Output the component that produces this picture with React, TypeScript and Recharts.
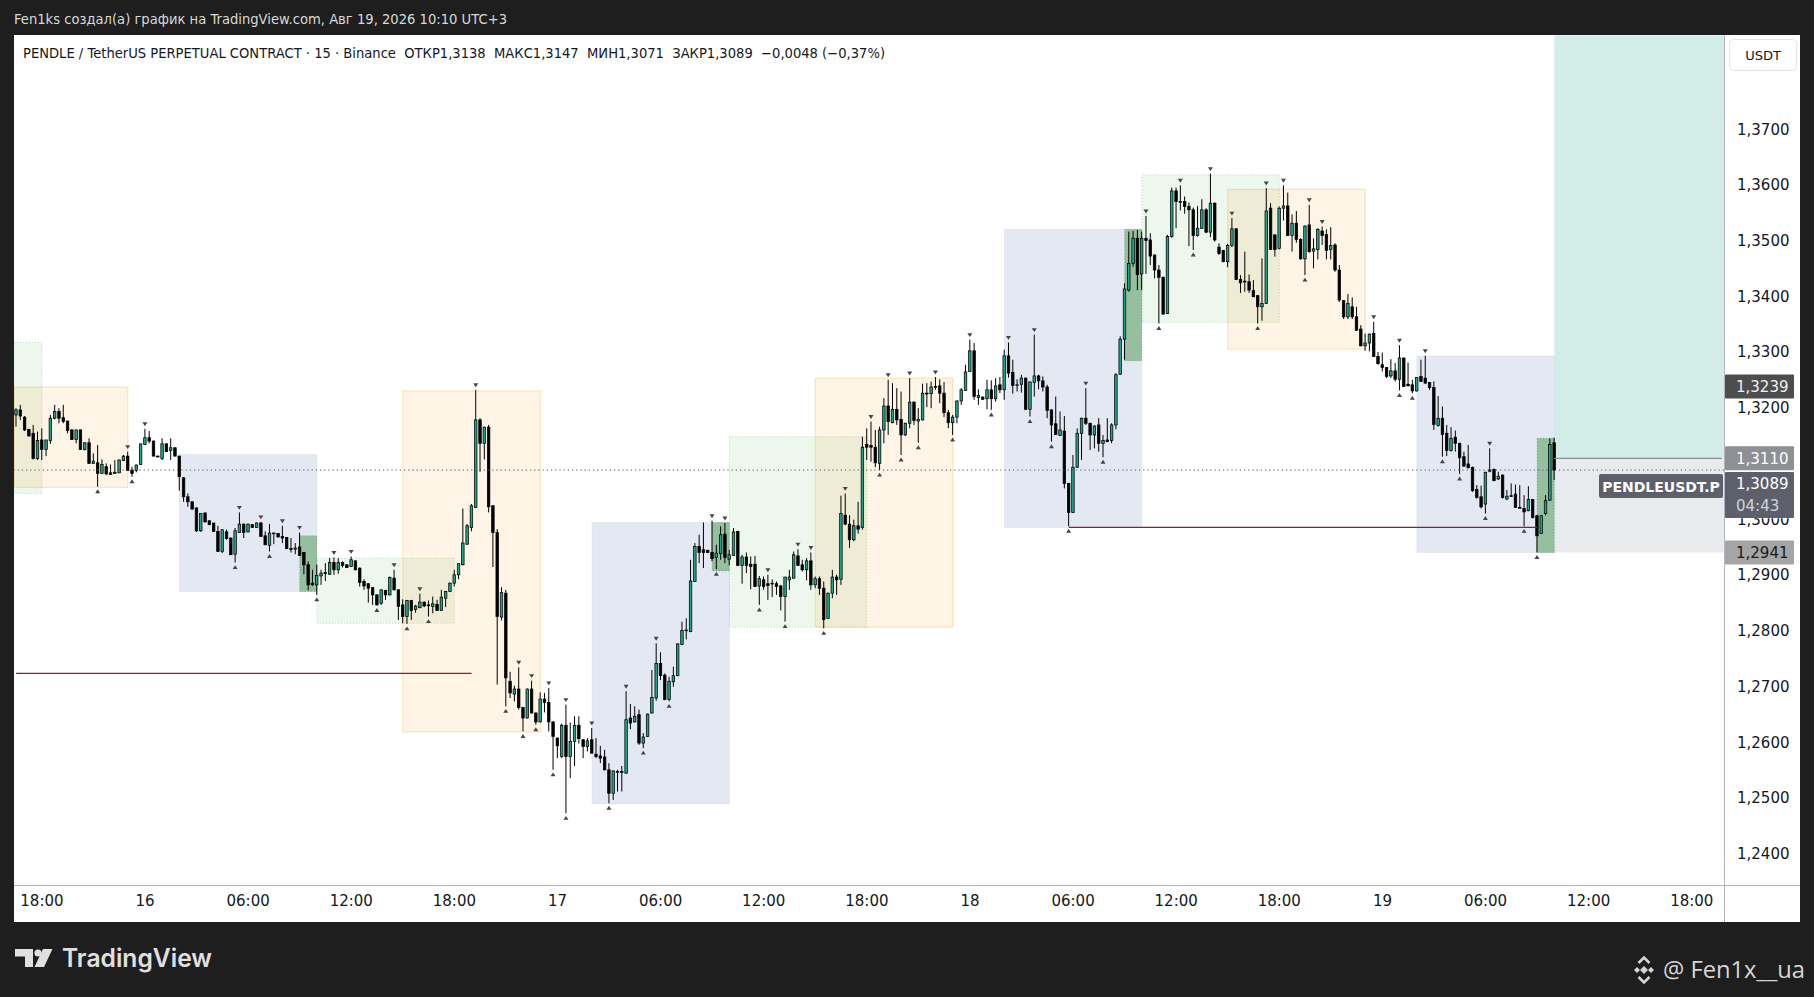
import React from 'react';
import { ComposedChart, Bar, XAxis, YAxis, ReferenceArea, ReferenceLine } from 'recharts';

// ---------- candle data (15 min, PENDLE/USDT.P, from 15 Aug 16:30 to 19 Aug 10:00) ----------
const OPEN = [
  1.3188,1.3197,1.3184,1.3162,1.3155,1.3110,1.3143,1.3126,1.3142,1.3182,
  1.3194,1.3183,1.3177,1.3161,1.3144,1.3161,1.3126,1.3138,1.3101,1.3102,
  1.3083,1.3095,1.3084,1.3083,1.3084,1.3106,1.3114,1.3089,1.3088,1.3099,
  1.3135,1.3147,1.3141,1.3114,1.3110,1.3136,1.3124,1.3129,1.3114,1.3075,
  1.3041,1.3032,1.3021,1.2980,1.3012,1.2998,1.2994,1.2979,1.2943,1.2978,
  1.2967,1.2938,1.2977,1.2992,1.2978,1.2991,1.2986,1.2994,1.2971,1.2954,
  1.2975,1.2975,1.2970,1.2968,1.2948,1.2947,1.2951,1.2941,1.2919,1.2886,
  1.2883,1.2899,1.2903,1.2902,1.2923,1.2910,1.2923,1.2919,1.2916,1.2926,
  1.2913,1.2889,1.2885,1.2878,1.2865,1.2850,1.2873,1.2865,1.2895,1.2874,
  1.2847,1.2826,1.2855,1.2839,1.2842,1.2852,1.2846,1.2844,1.2848,1.2837,
  1.2859,1.2871,1.2886,1.2901,1.2919,1.2956,1.2986,1.3022,1.3179,1.3137,
  1.3166,1.3025,1.2977,1.2825,1.2868,1.2710,1.2687,1.2696,1.2663,1.2644,
  1.2696,1.2653,1.2637,1.2678,1.2672,1.2637,1.2608,1.2575,1.2631,1.2575,
  1.2602,1.2631,1.2605,1.2593,1.2605,1.2579,1.2576,1.2574,1.2551,1.2509,
  1.2547,1.2548,1.2545,1.2644,1.2637,1.2650,1.2599,1.2611,1.2653,1.2680,
  1.2742,1.2721,1.2677,1.2709,1.2720,1.2776,1.2801,1.2799,1.2889,1.2952,
  1.2946,1.2945,1.2941,1.2932,1.2939,1.2974,1.2929,1.2936,1.2979,1.2918,
  1.2933,1.2920,1.2920,1.2881,1.2892,1.2885,1.2885,1.2885,1.2881,1.2862,
  1.2892,1.2895,1.2935,1.2919,1.2910,1.2926,1.2883,1.2894,1.2877,1.2823,
  1.2868,1.2897,1.2893,1.3008,1.2992,1.2964,1.2989,1.2986,1.3135,1.3133,
  1.3130,1.3101,1.3161,1.3204,1.3174,1.3198,1.3180,1.3152,1.3173,1.3211,
  1.3177,1.3179,1.3227,1.3226,1.3238,1.3240,1.3227,1.3192,1.3174,1.3184,
  1.3213,1.3232,1.3266,1.3303,1.3219,1.3220,1.3217,1.3233,1.3217,1.3242,
  1.3233,1.3294,1.3264,1.3241,1.3243,1.3254,1.3198,1.3246,1.3258,1.3249,
  1.3238,1.3197,1.3172,1.3151,1.3159,1.3065,1.3013,1.3094,1.3155,1.3182,
  1.3173,1.3152,1.3170,1.3137,1.3143,1.3142,1.3170,1.3261,1.3324,1.3412,
  1.3460,1.3505,1.3441,1.3505,1.3502,1.3475,1.3448,1.3435,1.3370,1.3508,
  1.3590,1.3570,1.3571,1.3562,1.3556,1.3510,1.3523,1.3556,1.3516,1.3568,
  1.3489,1.3483,1.3463,1.3492,1.3522,1.3431,1.3428,1.3427,1.3411,1.3402,
  1.3382,1.3388,1.3559,1.3511,1.3487,1.3559,1.3563,1.3510,1.3532,1.3503,
  1.3468,1.3529,1.3482,1.3485,1.3518,1.3512,1.3485,1.3493,1.3448,1.3393,
  1.3364,1.3382,1.3364,1.3342,1.3312,1.3317,1.3334,1.3293,1.3278,1.3273,
  1.3258,1.3267,1.3252,1.3290,1.3243,1.3242,1.3231,1.3257,1.3254,1.3246,
  1.3237,1.3169,1.3182,1.3155,1.3124,1.3148,1.3137,1.3113,1.3100,1.3094,
  1.3054,1.3041,1.3028,1.3087,1.3090,1.3073,1.3080,1.3037,1.3043,1.3046,
  1.3022,1.3020,1.3016,1.3036,1.3007,1.2975,1.3011,1.3035,1.3138,
];
const HIGH = [
  1.3200,1.3206,1.3186,1.3163,1.3170,1.3158,1.3164,1.3143,1.3188,1.3206,
  1.3200,1.3206,1.3177,1.3162,1.3161,1.3162,1.3138,1.3146,1.3119,1.3134,
  1.3108,1.3101,1.3099,1.3107,1.3108,1.3116,1.3122,1.3095,1.3099,1.3136,
  1.3163,1.3159,1.3142,1.3115,1.3146,1.3137,1.3146,1.3130,1.3115,1.3076,
  1.3047,1.3033,1.3022,1.3011,1.3013,1.2999,1.2994,1.2989,1.2982,1.2982,
  1.2968,1.2985,1.3013,1.2993,1.2993,1.2992,1.2995,1.2996,1.2979,1.2992,
  1.2977,1.2976,1.2989,1.2969,1.2967,1.2958,1.2977,1.2942,1.2925,1.2910,
  1.2919,1.2910,1.2922,1.2931,1.2932,1.2931,1.2925,1.2920,1.2934,1.2927,
  1.2914,1.2893,1.2886,1.2879,1.2866,1.2875,1.2874,1.2898,1.2910,1.2875,
  1.2857,1.2856,1.2856,1.2847,1.2867,1.2853,1.2855,1.2862,1.2856,1.2874,
  1.2872,1.2887,1.2910,1.2921,1.3020,1.2992,1.3028,1.3233,1.3182,1.3167,
  1.3170,1.3026,1.2983,1.2879,1.2874,1.2727,1.2702,1.2735,1.2664,1.2697,
  1.2711,1.2654,1.2690,1.2689,1.2698,1.2638,1.2609,1.2634,1.2668,1.2636,
  1.2647,1.2647,1.2606,1.2608,1.2626,1.2608,1.2594,1.2587,1.2563,1.2550,
  1.2551,1.2558,1.2692,1.2669,1.2665,1.2659,1.2617,1.2652,1.2730,1.2778,
  1.2762,1.2724,1.2718,1.2736,1.2778,1.2817,1.2823,1.2928,1.2958,1.2973,
  1.2995,1.2946,1.2998,1.2955,1.2988,1.2994,1.2946,1.2985,1.2980,1.2937,
  1.2941,1.2934,1.2935,1.2899,1.2898,1.2901,1.2893,1.2889,1.2883,1.2897,
  1.2910,1.2943,1.2947,1.2928,1.2931,1.2941,1.2898,1.2898,1.2889,1.2869,
  1.2910,1.2901,1.3043,1.3047,1.3008,1.3000,1.3032,1.3149,1.3164,1.3176,
  1.3161,1.3167,1.3218,1.3251,1.3245,1.3236,1.3230,1.3174,1.3254,1.3212,
  1.3200,1.3244,1.3245,1.3248,1.3256,1.3252,1.3247,1.3197,1.3188,1.3214,
  1.3236,1.3278,1.3323,1.3317,1.3234,1.3221,1.3251,1.3250,1.3254,1.3256,
  1.3305,1.3318,1.3287,1.3252,1.3260,1.3255,1.3248,1.3332,1.3260,1.3257,
  1.3242,1.3198,1.3221,1.3194,1.3186,1.3066,1.3116,1.3164,1.3183,1.3236,
  1.3174,1.3169,1.3182,1.3152,1.3182,1.3173,1.3263,1.3329,1.3424,1.3517,
  1.3518,1.3520,1.3517,1.3545,1.3514,1.3476,1.3457,1.3436,1.3511,1.3596,
  1.3596,1.3600,1.3580,1.3569,1.3560,1.3563,1.3575,1.3559,1.3621,1.3569,
  1.3496,1.3484,1.3495,1.3541,1.3523,1.3439,1.3481,1.3440,1.3430,1.3403,
  1.3469,1.3595,1.3568,1.3512,1.3562,1.3600,1.3587,1.3548,1.3554,1.3505,
  1.3528,1.3565,1.3505,1.3523,1.3526,1.3521,1.3525,1.3496,1.3457,1.3394,
  1.3405,1.3399,1.3382,1.3349,1.3334,1.3334,1.3355,1.3301,1.3300,1.3274,
  1.3288,1.3281,1.3313,1.3291,1.3282,1.3251,1.3256,1.3287,1.3294,1.3247,
  1.3248,1.3222,1.3203,1.3170,1.3166,1.3160,1.3138,1.3122,1.3134,1.3095,
  1.3062,1.3061,1.3086,1.3128,1.3092,1.3086,1.3081,1.3053,1.3065,1.3063,
  1.3062,1.3044,1.3060,1.3037,1.3008,1.3008,1.3044,1.3146,1.3147,
];
const LOW = [
  1.3167,1.3179,1.3159,1.3150,1.3108,1.3107,1.3107,1.3114,1.3136,1.3180,
  1.3173,1.3173,1.3155,1.3143,1.3137,1.3125,1.3124,1.3100,1.3100,1.3059,
  1.3082,1.3080,1.3081,1.3083,1.3084,1.3105,1.3088,1.3077,1.3085,1.3098,
  1.3134,1.3137,1.3114,1.3112,1.3107,1.3122,1.3107,1.3114,1.3052,1.3032,
  1.3023,1.3018,1.2978,1.2978,1.2995,1.2990,1.2978,1.2942,1.2940,1.2964,
  1.2937,1.2923,1.2976,1.2967,1.2977,1.2985,1.2985,1.2969,1.2954,1.2943,
  1.2956,1.2968,1.2958,1.2947,1.2941,1.2938,1.2935,1.2902,1.2873,1.2881,
  1.2865,1.2883,1.2890,1.2901,1.2901,1.2903,1.2914,1.2913,1.2915,1.2909,
  1.2880,1.2874,1.2851,1.2847,1.2846,1.2847,1.2856,1.2864,1.2873,1.2820,
  1.2814,1.2813,1.2820,1.2833,1.2841,1.2843,1.2826,1.2832,1.2836,1.2836,
  1.2843,1.2870,1.2880,1.2893,1.2918,1.2955,1.2979,1.3021,1.3086,1.3108,
  1.3013,1.2915,1.2704,1.2819,1.2665,1.2680,1.2674,1.2659,1.2620,1.2643,
  1.2652,1.2632,1.2636,1.2654,1.2620,1.2551,1.2572,1.2572,1.2473,1.2536,
  1.2558,1.2598,1.2572,1.2584,1.2580,1.2572,1.2563,1.2550,1.2491,1.2497,
  1.2512,1.2512,1.2544,1.2624,1.2636,1.2596,1.2590,1.2610,1.2652,1.2675,
  1.2712,1.2676,1.2674,1.2700,1.2719,1.2775,1.2785,1.2798,1.2888,1.2922,
  1.2913,1.2940,1.2925,1.2911,1.2928,1.2922,1.2918,1.2935,1.2917,1.2885,
  1.2904,1.2875,1.2879,1.2847,1.2874,1.2856,1.2861,1.2865,1.2837,1.2817,
  1.2874,1.2894,1.2917,1.2907,1.2891,1.2874,1.2877,1.2865,1.2805,1.2822,
  1.2859,1.2865,1.2883,1.2990,1.2949,1.2961,1.2975,1.2982,1.3107,1.3104,
  1.3094,1.3089,1.3137,1.3152,1.3173,1.3170,1.3116,1.3150,1.3164,1.3170,
  1.3138,1.3178,1.3202,1.3200,1.3233,1.3209,1.3184,1.3164,1.3152,1.3173,
  1.3206,1.3231,1.3265,1.3215,1.3206,1.3215,1.3198,1.3197,1.3212,1.3227,
  1.3215,1.3255,1.3226,1.3230,1.3228,1.3197,1.3185,1.3221,1.3234,1.3230,
  1.3182,1.3140,1.3152,1.3150,1.3056,1.2988,1.3012,1.3093,1.3107,1.3170,
  1.3125,1.3128,1.3122,1.3112,1.3139,1.3137,1.3162,1.3260,1.3287,1.3409,
  1.3454,1.3412,1.3412,1.3441,1.3457,1.3433,1.3352,1.3368,1.3369,1.3506,
  1.3523,1.3555,1.3549,1.3491,1.3484,1.3508,1.3522,1.3514,1.3507,1.3499,
  1.3475,1.3462,1.3453,1.3489,1.3430,1.3407,1.3409,1.3407,1.3400,1.3352,
  1.3357,1.3387,1.3484,1.3472,1.3485,1.3537,1.3509,1.3481,1.3497,1.3467,
  1.3439,1.3479,1.3451,1.3467,1.3493,1.3467,1.3467,1.3445,1.3391,1.3360,
  1.3360,1.3360,1.3339,1.3311,1.3303,1.3302,1.3292,1.3278,1.3266,1.3254,
  1.3254,1.3248,1.3232,1.3238,1.3240,1.3227,1.3230,1.3247,1.3244,1.3233,
  1.3161,1.3167,1.3113,1.3114,1.3122,1.3122,1.3082,1.3095,1.3092,1.3050,
  1.3038,1.3020,1.3011,1.3085,1.3069,1.3071,1.3038,1.3035,1.3041,1.3021,
  1.3020,1.2988,1.3015,1.3002,1.2941,1.2974,1.3008,1.3034,1.3071,
];
const CLOSE = [
  1.3197,1.3186,1.3161,1.3150,1.3110,1.3142,1.3126,1.3143,1.3182,1.3194,
  1.3182,1.3176,1.3160,1.3144,1.3161,1.3126,1.3138,1.3101,1.3105,1.3083,
  1.3099,1.3082,1.3081,1.3085,1.3107,1.3114,1.3088,1.3083,1.3098,1.3136,
  1.3147,1.3141,1.3114,1.3113,1.3136,1.3122,1.3129,1.3114,1.3077,1.3041,
  1.3032,1.3019,1.2980,1.3011,1.2996,1.2991,1.2979,1.2943,1.2982,1.2966,
  1.2937,1.2980,1.2992,1.2977,1.2992,1.2986,1.2994,1.2970,1.2955,1.2976,
  1.2976,1.2969,1.2967,1.2948,1.2947,1.2949,1.2936,1.2919,1.2883,1.2883,
  1.2900,1.2904,1.2905,1.2923,1.2910,1.2923,1.2918,1.2914,1.2928,1.2910,
  1.2887,1.2881,1.2877,1.2865,1.2847,1.2874,1.2865,1.2896,1.2874,1.2844,
  1.2826,1.2855,1.2837,1.2845,1.2852,1.2845,1.2847,1.2849,1.2837,1.2861,
  1.2871,1.2886,1.2901,1.2921,1.2958,1.2989,1.3025,1.3179,1.3137,1.3166,
  1.3023,1.2977,1.2826,1.2869,1.2716,1.2689,1.2696,1.2663,1.2644,1.2696,
  1.2653,1.2637,1.2678,1.2672,1.2637,1.2611,1.2594,1.2631,1.2575,1.2602,
  1.2631,1.2607,1.2593,1.2603,1.2581,1.2575,1.2572,1.2551,1.2509,1.2549,
  1.2548,1.2547,1.2641,1.2635,1.2647,1.2599,1.2610,1.2651,1.2681,1.2742,
  1.2720,1.2677,1.2710,1.2720,1.2777,1.2801,1.2802,1.2890,1.2952,1.2941,
  1.2941,1.2941,1.2930,1.2940,1.2973,1.2932,1.2937,1.2978,1.2918,1.2933,
  1.2918,1.2916,1.2880,1.2894,1.2880,1.2882,1.2886,1.2880,1.2862,1.2897,
  1.2897,1.2937,1.2918,1.2910,1.2926,1.2883,1.2894,1.2877,1.2821,1.2868,
  1.2897,1.2892,1.3011,1.2992,1.2964,1.2989,1.2983,1.3130,1.3130,1.3130,
  1.3102,1.3161,1.3204,1.3176,1.3198,1.3179,1.3152,1.3173,1.3211,1.3178,
  1.3180,1.3227,1.3226,1.3238,1.3239,1.3227,1.3192,1.3174,1.3184,1.3213,
  1.3233,1.3265,1.3303,1.3221,1.3223,1.3216,1.3233,1.3217,1.3240,1.3233,
  1.3294,1.3263,1.3241,1.3242,1.3254,1.3198,1.3247,1.3258,1.3249,1.3238,
  1.3196,1.3170,1.3153,1.3161,1.3065,1.3013,1.3094,1.3155,1.3182,1.3173,
  1.3152,1.3168,1.3137,1.3142,1.3140,1.3170,1.3260,1.3324,1.3414,1.3460,
  1.3505,1.3440,1.3505,1.3501,1.3473,1.3448,1.3435,1.3369,1.3508,1.3590,
  1.3571,1.3571,1.3562,1.3556,1.3510,1.3523,1.3556,1.3516,1.3568,1.3502,
  1.3478,1.3463,1.3492,1.3522,1.3431,1.3425,1.3427,1.3412,1.3400,1.3382,
  1.3388,1.3554,1.3485,1.3485,1.3559,1.3563,1.3510,1.3532,1.3503,1.3468,
  1.3527,1.3481,1.3486,1.3521,1.3510,1.3483,1.3492,1.3448,1.3394,1.3364,
  1.3388,1.3364,1.3340,1.3312,1.3317,1.3333,1.3293,1.3280,1.3273,1.3257,
  1.3267,1.3252,1.3290,1.3239,1.3240,1.3231,1.3255,1.3248,1.3245,1.3237,
  1.3171,1.3182,1.3153,1.3124,1.3146,1.3137,1.3111,1.3096,1.3093,1.3052,
  1.3040,1.3023,1.3085,1.3089,1.3070,1.3078,1.3040,1.3042,1.3042,1.3022,
  1.3021,1.3014,1.3036,1.3004,1.2971,1.3007,1.3034,1.3135,1.3089,
];

// ---------- axes ----------
const TOTAL_SLOTS = 398;
const TIME_TICK_INDEX = [6, 30, 54, 78, 102, 126, 150, 174, 198, 222, 246, 270, 294, 318, 342, 366, 390];
const TIME_TICK_LABELS = ['18:00', '16', '06:00', '12:00', '18:00', '17', '06:00', '12:00', '18:00', '18', '06:00', '12:00', '18:00', '19', '06:00', '12:00', '18:00'];
const PRICE_TICKS = [1.24, 1.25, 1.26, 1.27, 1.28, 1.29, 1.30, 1.31, 1.32, 1.33, 1.34, 1.35, 1.36, 1.37];
const PRICE_DOMAIN: [number, number] = [1.23443, 1.38698];
// axis labels covered by the price tags on the right scale
const TICKS_UNDER_TAG = [1.31];
const TICKS_HALF_UNDER_TAG = [1.30];

// ---------- session boxes ----------
const BOX_START = [0, 0, 38, 66, 70, 90, 134, 162, 166, 186, 230, 258, 262, 282, 326, 354];
const BOX_END = [6, 26, 70, 70, 102, 122, 166, 166, 198, 218, 262, 262, 294, 314, 358, 358];
const BOX_TOP = [1.3318, 1.3238, 1.3117, 1.2971, 1.2931, 1.3231, 1.2995, 1.2995, 1.3149, 1.3254, 1.3521, 1.3521, 1.3619, 1.3593, 1.3294, 1.3146];
const BOX_BOTTOM = [1.3047, 1.3058, 1.2871, 1.2871, 1.2814, 1.2619, 1.2490, 1.2908, 1.2807, 1.2807, 1.2986, 1.3285, 1.3354, 1.3306, 1.2941, 1.2941];
const BOX_KIND = ['london', 'ny', 'asia', 'open', 'london', 'ny', 'asia', 'open', 'london', 'ny', 'asia', 'open', 'london', 'ny', 'asia', 'open'];

// ---------- horizontal levels ----------
const LEVEL_PRICE = [1.2724, 1.2986];
const LEVEL_START = [0, 245];
const LEVEL_END = [106, 354];

// ---------- position tool & price tags ----------
const POS_START = 358;
const POS_ENTRY = 1.3110;
const POS_STOP = 1.2941;
const POS_TARGET_VISIBLE = 1.3869;
const LAST_PRICE = 1.3089;
const MARKED_PRICE = 1.3239;
const COUNTDOWN = '04:43';
const SYMBOL_TAG = 'PENDLEUSDT.P';

// ---------- styles ----------
const FONT = '"DejaVu Sans", "Liberation Sans", sans-serif';
const UP = '#1fa58b';
const PLOT_W = 1710;
const HALF_BAND = PLOT_W / TOTAL_SLOTS / 2;
const BOX_STYLE: Record<string, { fill: string; stroke: string; dash?: string }> = {
  asia: { fill: 'rgba(33,65,160,0.12)', stroke: 'rgba(33,65,160,0.05)' },
  london: { fill: 'rgba(76,175,80,0.10)', stroke: 'rgba(76,175,80,0.35)', dash: '1 2' },
  ny: { fill: 'rgba(255,152,0,0.10)', stroke: 'rgba(255,152,0,0.28)' },
  open: { fill: 'rgba(56,142,60,0.45)', stroke: 'rgba(56,142,60,0.5)', dash: '1 2' },
};

const N = Math.min(OPEN.length, HIGH.length, LOW.length, CLOSE.length);
const isFracUp = (i: number) =>
  i >= 2 && i + 2 < N && HIGH[i] > HIGH[i - 1] && HIGH[i] > HIGH[i - 2] && HIGH[i] > HIGH[i + 1] && HIGH[i] > HIGH[i + 2];
const isFracDown = (i: number) =>
  i >= 2 && i + 2 < N && LOW[i] < LOW[i - 1] && LOW[i] < LOW[i - 2] && LOW[i] < LOW[i + 1] && LOW[i] < LOW[i + 2];

const rows = Array.from({ length: TOTAL_SLOTS }, (_, i) =>
  i < N
    ? { i, range: [LOW[i], HIGH[i]], o: OPEN[i], h: HIGH[i], l: LOW[i], c: CLOSE[i], fu: isFracUp(i), fd: isFracDown(i) }
    : { i, range: null }
);

const TICK_LABEL_BY_INDEX: Record<number, string> = {};
TIME_TICK_INDEX.forEach((idx, k) => (TICK_LABEL_BY_INDEX[idx] = TIME_TICK_LABELS[k]));

const fmt = (v: number) => v.toFixed(4).replace('.', ',');

const renderCandle = (p: any) => {
  const { x, y, width, height, payload } = p;
  if (!payload || payload.o === undefined || x == null || y == null) return <g />;
  const top = height >= 0 ? y : y + height;
  const span = Math.abs(height || 0);
  const { o, h, l, c, fu, fd } = payload;
  const py = (v: number) => (h === l ? top : top + ((h - v) / (h - l)) * span);
  const cx = x + width / 2;
  const yo = py(o);
  const yc = py(c);
  const bTop = Math.min(yo, yc);
  const bH = Math.max(Math.abs(yo - yc), 0.8);
  const up = c >= o;
  return (
    <g>
      <line x1={cx} x2={cx} y1={top} y2={top + span} stroke="#000" strokeWidth={1} />
      <rect x={cx - 1.25} y={bTop} width={2.5} height={bH} fill={up ? UP : '#000'} stroke="#000" strokeWidth={0.75} />
      {fu && <path d={`M${cx - 2.5},${top - 6.5} L${cx + 2.5},${top - 6.5} L${cx},${top - 2.6} Z`} fill="#454545" />}
      {fd && <path d={`M${cx - 2.5},${top + span + 6.5} L${cx + 2.5},${top + span + 6.5} L${cx},${top + span + 2.6} Z`} fill="#454545" />}
    </g>
  );
};

const TimeTick = (p: any) => {
  const label = TICK_LABEL_BY_INDEX[p?.payload?.value];
  if (!label) return <g />;
  return (
    <text x={p.x} y={866} textAnchor="middle" dominantBaseline="central" fontSize={15} fill="#131722" fontFamily={FONT}>
      {label}
    </text>
  );
};

const PriceTick = (p: any) => {
  const v = p?.payload?.value;
  if (TICKS_UNDER_TAG.some((t) => Math.abs(t - v) < 1e-9)) return <g />;
  const half = TICKS_HALF_UNDER_TAG.some((t) => Math.abs(t - v) < 1e-9);
  const id = `clip-${String(v).replace('.', '_')}`;
  return (
    <g>
      {half && (
        <defs>
          <clipPath id={id}>
            <rect x={1710} y={p.y - 1.5} width={80} height={20} />
          </clipPath>
        </defs>
      )}
      <text x={1723} y={p.y} dominantBaseline="central" fontSize={15} fill="#131722" fontFamily={FONT} clipPath={half ? `url(#${id})` : undefined}>
        {fmt(v)}
      </text>
    </g>
  );
};

const boxShape = (k: number) => (p: any) => {
  const st = BOX_STYLE[BOX_KIND[k]];
  const left = BOX_START[k] === 0 ? p.x : p.x + HALF_BAND;
  const right = Math.min(p.x + p.width + HALF_BAND, PLOT_W);
  return (
    <rect x={left} y={p.y} width={Math.max(right - left, 0)} height={p.height} fill={st.fill} stroke={st.stroke} strokeDasharray={st.dash} strokeWidth={1} />
  );
};

const posShape = (fill: string) => (p: any) => {
  const left = p.x + HALF_BAND;
  const right = Math.min(p.x + p.width + HALF_BAND, PLOT_W);
  return <rect x={left} y={p.y} width={right - left} height={p.height} fill={fill} />;
};

const tagText = (x: number, y: number, text: string, color: string, size = 15, weight = 400) => (
  <text x={x} y={y} dominantBaseline="central" fontSize={size} fontWeight={weight} fill={color} fontFamily={FONT}>
    {text}
  </text>
);

const simpleTag = (text: string, fill: string, color: string) => (props: any) => {
  const vb = props.viewBox || {};
  const right = (vb.x || 0) + (vb.width || PLOT_W);
  const yy = vb.y;
  return (
    <g>
      <rect x={right + 1} y={yy - 12} width={69} height={24} fill={fill} rx={1} />
      {tagText(right + 12, yy + 0.5, text, color)}
    </g>
  );
};

const lastPriceTag = (props: any) => {
  const vb = props.viewBox || {};
  const right = (vb.x || 0) + (vb.width || PLOT_W);
  const yy = vb.y;
  return (
    <g>
      <rect x={right - 125} y={yy + 4} width={124} height={24} rx={2} fill="#5d606b" />
      <text x={right - 63} y={yy + 16.5} textAnchor="middle" dominantBaseline="central" fontSize={14} fontWeight={700} fill="#ffffff" fontFamily={FONT}>
        {SYMBOL_TAG}
      </text>
      <rect x={right + 1} y={yy + 2} width={69} height={46} fill="#5d606b" rx={1} />
      {tagText(right + 12, yy + 14, fmt(LAST_PRICE), '#ffffff')}
      {tagText(right + 12, yy + 36, COUNTDOWN, '#d1d4dc')}
    </g>
  );
};

export default function App() {
  return (
    <div style={{ position: 'absolute', left: 0, top: 0, width: 1814, height: 997, background: '#1e1e1e', overflow: 'hidden' }}>
      <div style={{ position: 'absolute', left: 14, top: 35, width: 1786, height: 887, background: '#ffffff' }}>
        <ComposedChart width={1786} height={887} data={rows} margin={{ top: 0, right: 0, bottom: 0, left: 0 }}>
          <XAxis dataKey="i" type="category" interval={0} tick={<TimeTick />} tickLine={false} axisLine={false} height={37} />
          <YAxis
            orientation="right"
            type="number"
            domain={PRICE_DOMAIN}
            allowDataOverflow
            ticks={PRICE_TICKS}
            tick={<PriceTick />}
            tickLine={false}
            axisLine={false}
            width={76}
          />
          {BOX_START.map((s, k) => (
            <ReferenceArea key={`box${k}`} x1={s} x2={BOX_END[k] - 1} y1={BOX_BOTTOM[k]} y2={BOX_TOP[k]} shape={boxShape(k)} ifOverflow="visible" />
          ))}
          <ReferenceArea x1={POS_START} x2={TOTAL_SLOTS - 1} y1={POS_ENTRY} y2={POS_TARGET_VISIBLE} shape={posShape('rgba(8,153,129,0.18)')} ifOverflow="visible" />
          <ReferenceArea x1={POS_START} x2={TOTAL_SLOTS - 1} y1={POS_STOP} y2={POS_ENTRY} shape={posShape('rgba(120,123,134,0.16)')} ifOverflow="visible" />
          {LEVEL_PRICE.map((p, k) => (
            <ReferenceLine
              key={`lvl${k}`}
              segment={[{ x: LEVEL_START[k], y: p }, { x: LEVEL_END[k], y: p }]}
              stroke="#8e1f2a"
              strokeWidth={1.2}
            />
          ))}
          <ReferenceLine segment={[{ x: POS_START, y: POS_ENTRY }, { x: TOTAL_SLOTS - 1, y: POS_ENTRY }]} stroke="#8a8d96" strokeWidth={1.2} />
          <ReferenceLine y={LAST_PRICE} stroke="#4f525c" strokeDasharray="1.2 3" strokeWidth={1} />
          <Bar dataKey="range" barSize={4} shape={renderCandle} isAnimationActive={false} />
          <ReferenceLine y={MARKED_PRICE} stroke="none" label={simpleTag(fmt(MARKED_PRICE), '#4d4d4d', '#f0f0f0')} />
          <ReferenceLine y={POS_ENTRY} stroke="none" label={simpleTag(fmt(POS_ENTRY), '#8e9096', '#ffffff')} />
          <ReferenceLine y={POS_STOP} stroke="none" label={simpleTag(fmt(POS_STOP), '#a5a5a5', '#1a1a1a')} />
          <ReferenceLine y={LAST_PRICE} stroke="none" label={lastPriceTag} />
        </ComposedChart>
      </div>
      <svg width={1814} height={997} style={{ position: 'absolute', left: 0, top: 0, pointerEvents: 'none' }}>
        <text x={14} y={18.5} dominantBaseline="central" fontSize={14} fill="#d9d9d9" fontFamily={FONT} textLength={493} lengthAdjust="spacingAndGlyphs">
          Fen1ks создал(а) график на TradingView.com, Авг 19, 2026 10:10 UTC+3
        </text>
        <text x={23} y={53} dominantBaseline="central" fontSize={14} fill="#131722" fontFamily={FONT} textLength={862} lengthAdjust="spacingAndGlyphs" style={{ whiteSpace: 'pre' }}>
          {'PENDLE / TetherUS PERPETUAL CONTRACT · 15 · Binance  ОТКР1,3138  МАКС1,3147  МИН1,3071  ЗАКР1,3089  −0,0048 (−0,37%)'}
        </text>
        <line x1={14} x2={1800} y1={885.5} y2={885.5} stroke="#b2b5be" strokeWidth={1} />
        <line x1={1724.5} x2={1724.5} y1={35} y2={922} stroke="#b2b5be" strokeWidth={1} />
        <rect x={1729.5} y={39.5} width={67} height={31} rx={4} fill="#ffffff" stroke="#e0e3eb" />
        <text x={1763} y={55} textAnchor="middle" dominantBaseline="central" fontSize={13} fill="#131722" fontFamily={FONT}>
          USDT
        </text>
        {/* TradingView logo */}
        <g fill="#e0e0e0">
          <rect x={15} y={949} width={18} height={7.5} />
          <rect x={25} y={949} width={8} height={18} />
          <circle cx={38} cy={953} r={3.6} />
          <polygon points="43,949 52.5,949 44,967 34.5,967" />
        </g>
        <text x={62} y={967} fontSize={25} fontWeight={600} fill="#e0e0e0" fontFamily='Inter, "Open Sans", sans-serif' textLength={150} lengthAdjust="spacingAndGlyphs">
          TradingView
        </text>
        {/* watermark */}
        <g fill="#d6d6d6" stroke="none">
          <polygon points="1644,962 1648,966 1644,970 1640,966" transform="translate(0,4)" />
          <polygon points="1634,970 1637,967 1640,970 1637,973" />
          <polygon points="1648,970 1651,967 1654,970 1651,973" />
        </g>
        <g fill="none" stroke="#d6d6d6" strokeWidth={2.6}>
          <polyline points="1638.5,963 1644,957.5 1649.5,963" />
          <polyline points="1638.5,977 1644,982.5 1649.5,977" />
        </g>
        <text x={1663} y={978} fontSize={23} fill="#d6d6d6" fontFamily='"Open Sans", sans-serif' textLength={142} lengthAdjust="spacingAndGlyphs">
          @ Fen1x__ua
        </text>
      </svg>
    </div>
  );
}
